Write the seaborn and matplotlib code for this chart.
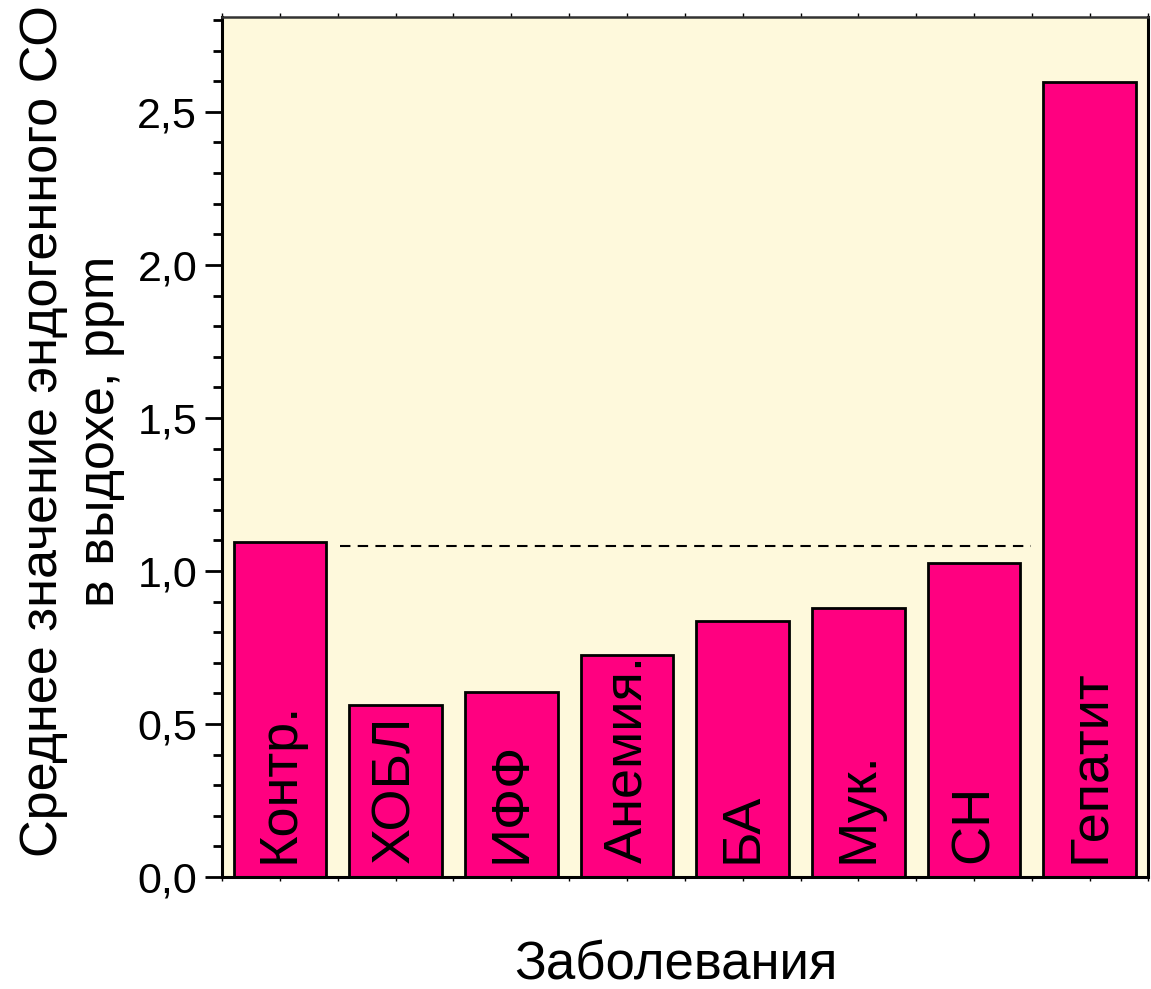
import numpy as np
import pandas as pd
import matplotlib
matplotlib.use('Agg')
import matplotlib.pyplot as plt
from matplotlib.ticker import MultipleLocator
import seaborn as sns

categories = ['Контр.', 'ХОБЛ', 'ИФФ', 'Анемия.', 'БА', 'Мук.', 'СН', 'Гепатит']
values = [1.095, 0.562, 0.605, 0.725, 0.837, 0.879, 1.026, 2.598]
control_level = 1.082

sns.set_style('ticks')
plt.rcParams['font.family'] = ['Liberation Sans', 'DejaVu Sans']
plt.rcParams.update({'text.color': 'black', 'axes.labelcolor': 'black',
                     'xtick.color': 'black', 'ytick.color': 'black',
                     'axes.edgecolor': 'black'})

df = pd.DataFrame({'group': categories, 'co': values})

fig = plt.figure(figsize=(11.51, 9.89), dpi=100)
ax = fig.add_axes([0.193, 0.1132, 0.804, 0.8696])
ax.set_facecolor('#FEF9DC')

sns.barplot(data=df, x='group', y='co', color='#FF0080', saturation=1,
            edgecolor='black', linewidth=2, width=0.8, ax=ax)

# label inside each bar
for i, name in enumerate(categories):
    ax.text(i, 0.045, name, rotation=90, ha='center', va='bottom',
            fontsize=39, color='black')

# control level reference
ax.hlines(control_level, 0.52, 6.49, colors='black', lw=1.5,
          linestyles=(0, (5, 3.5)))

ax.set_xlim(-0.5, 7.5)
ax.set_ylim(0, 2.81)
ax.yaxis.set_major_locator(MultipleLocator(0.5))
ax.yaxis.set_minor_locator(MultipleLocator(0.1))
ax.yaxis.set_major_formatter(lambda v, p: f'{v:.1f}'.replace('.', ','))
ax.xaxis.set_minor_locator(MultipleLocator(0.5))
ax.set_xticklabels([])

ax.tick_params(axis='y', which='major', direction='out', length=12, width=2,
               labelsize=31, pad=6)
ax.tick_params(axis='y', which='minor', direction='out', length=6.5, width=2)
ax.tick_params(axis='x', which='both', direction='out', length=3, width=1,
               top=True)

for side in ['left', 'bottom', 'right']:
    ax.spines[side].set_linewidth(2.2)
ax.spines['top'].set_linewidth(1.8)
ax.spines['top'].set_color('#333333')

ax.set_xlabel('Заболевания', fontsize=38)
ax.xaxis.set_label_coords(0.49, -0.074)
ax.set_ylabel('Среднее значение эндогенного СО\nв выдохе, ppm', fontsize=37.5,
              linespacing=1.22)
ax.yaxis.set_label_coords(-0.105, 0.518)

fig.savefig('out.png', dpi=100)
